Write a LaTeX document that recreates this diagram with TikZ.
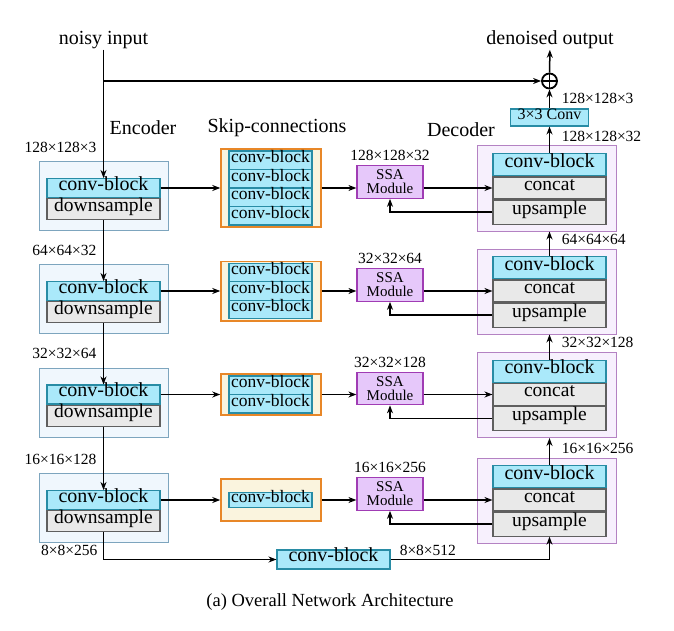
\documentclass[tikz,border=0pt]{standalone}
\usepackage{fontspec}
\setmainfont{Liberation Serif}
\usetikzlibrary{arrows.meta, positioning, calc}

\definecolor{convfill}{RGB}{170,233,250}
\definecolor{convline}{RGB}{40,140,165}
\definecolor{grayfill}{RGB}{233,233,233}
\definecolor{grayline}{RGB}{95,95,95}
\definecolor{encfill}{RGB}{240,247,253}
\definecolor{encline}{RGB}{125,165,190}
\definecolor{skipfill}{RGB}{250,244,222}
\definecolor{skipline}{RGB}{232,135,40}
\definecolor{ssafill}{RGB}{230,200,250}
\definecolor{ssaline}{RGB}{160,60,180}
\definecolor{decfill}{RGB}{247,240,253}
\definecolor{decline}{RGB}{180,130,195}

\newcommand{\fsz}[1]{\fontsize{#1}{#1}\selectfont}

\tikzset{
  blk/.style={draw, inner sep=0pt, text height=0.66em, text depth=0.2em, line width=1.1pt},
  convblk/.style={blk, draw=convline, fill=convfill, minimum width=113pt, minimum height=20pt, font=\fsz{20}},
  graybox/.style={blk, draw=grayline, fill=grayfill, minimum width=113pt, font=\fsz{19.5}},
  skipblk/.style={blk, draw=convline, fill=convfill, minimum width=83pt, minimum height=18.5pt, font=\fsz{17.5}},
  encbox/.style={draw=encline, fill=encfill, line width=1pt, minimum width=129pt, minimum height=69pt},
  skipbox/.style={draw=skipline, fill=skipfill, line width=1.5pt, minimum width=100pt},
  ssabox/.style={draw=ssaline, fill=ssafill, line width=1.2pt, minimum width=66pt, minimum height=32.5pt, inner sep=0pt, align=center, font=\fontsize{15}{14}\selectfont},
  decbox/.style={draw=decline, fill=decfill, line width=1pt, minimum width=138.5pt, minimum height=85pt},
  sumnode/.style={draw, circle, line width=1.8pt, minimum size=15pt, inner sep=0pt,
    path picture={\draw[line width=1.8pt] (path picture bounding box.north) -- (path picture bounding box.south)
      (path picture bounding box.west) -- (path picture bounding box.east);}},
  dimlbl/.style={font=\fsz{15.5}, inner sep=0pt},
  toplbl/.style={font=\fsz{20}, inner sep=0pt},
}

\begin{document}
\begin{tikzpicture}[x=1pt, y=-1pt, line width=1.5pt, >={Stealth[length=8pt,width=6pt]}]
\useasboundingbox (0,0) rectangle (674,631);

% Titles
\node[toplbl] (noisy) at (103.5,40) {noisy input};
\node[toplbl] (out) at (550,40) {denoised output};
\node[toplbl] (enctitle) at (143,128) {Encoder};
\node[toplbl] (skiptitle) at (277,128) {Skip-connections};
\node[toplbl] (dectitle) at (461,130) {Decoder};

% Skip-connection groups
\foreach \i/\y/\n in {1/188/4, 2/291/3, 3/394.5/2} {
  \node[skipbox, minimum height=\n*18.5pt+4pt] (sk\i) at (271,\y) {};
  \foreach \k in {1,...,\n}
    \node[skipblk] (sk\i-\k) at (270.5,\y-\n*9.25-9.25+18.5*\k) {conv-block};
}
\node[skipbox, minimum height=42pt] (sk4) at (271,500) {};
\node[skipblk, minimum height=15pt] (sk4-1) at (270.5,500) {conv-block};

% Encoder, SSA and decoder rows
\foreach \i/\y/\encdim/\ssadim/\decdim in {1/188/128×128×3/128×128×32/128×128×32,
    2/291/64×64×32/32×32×64/64×64×64, 3/394.5/32×32×64/32×32×128/32×32×128,
    4/500/16×16×128/16×16×256/16×16×256} {
  \node[encbox] (enc\i) at (103.5,\y+8) {};
  \node[convblk, minimum height=19pt] (ec\i) at (103.5,\y) {conv-block};
  \node[graybox, minimum height=21pt, anchor=north] (ed\i) at (ec\i.south) {downsample};
  \node[dimlbl, anchor=east] (edim\i) at (97,\y-41) {\encdim};
  \node[ssabox] (ssa\i) at (390,\y-6) {SSA\\Module};
  \node[dimlbl] (sdim\i) at (390,\y-32.5) {\ssadim};
  \node[decbox] (dec\i) at (547,\y+0.5) {};
  \node[graybox, minimum height=22pt] (dt\i) at (549.5,\y) {concat};
  \node[convblk, minimum height=22pt, anchor=south] (dc\i) at (dt\i.north) {conv-block};
  \node[graybox, minimum height=24pt, anchor=north] (du\i) at (dt\i.south) {upsample};
  \node[dimlbl, anchor=west] (ddim\i) at (561,\y-52) {\decdim};
  % connections in the row
  \draw[->] (ec\i) -- (sk\i);
  \draw[->] (sk\i.east) -- (sk\i.east -| ssa\i.west);
  \draw[->] (ssa\i.east |- dt\i) -- (dt\i.west);
  \draw[->] (du\i.west) -| (ssa\i.south);
}

% Vertical flow
\draw[->] (noisy) -- (ec1.north);
\foreach \i/\j in {1/2, 2/3, 3/4} {
  \draw[->] (ed\i.south) -- (ec\j.north);
  \draw[->] (dc\j.north) -- (dc\j.north |- dec\i.south);
}

% Output head
\node[convblk, font=\fsz{16}, minimum width=78pt, minimum height=17pt] (conv3) at (549.5,117.5) {3×3 Conv};
\node[dimlbl, anchor=west] (odim) at (561,98) {128×128×3};
\node[sumnode] (plus) at (549.5,81) {};
\coordinate (split) at (noisy |- plus);
\draw[->] (dc1.north) -- (conv3.south);
\draw[->] (conv3) -- (plus);
\draw[->] (plus) -- (out);
\draw[->] (split) -- (plus);

% Bottleneck
\node[convblk, minimum height=19pt] (bott) at (333.5,559.5) {conv-block};
\node[dimlbl, anchor=east] (bdim1) at (98,550) {8×8×256};
\node[dimlbl, anchor=west] (bdim2) at (399,550) {8×8×512};
\draw[->] (ed4.south) |- (bott.west);
\draw[->] (bott.east) -| (du4.south);

\node[font=\fsz{18.5}] (caption) at (330,602) {(a) Overall Network Architecture};
\end{tikzpicture}
\end{document}
